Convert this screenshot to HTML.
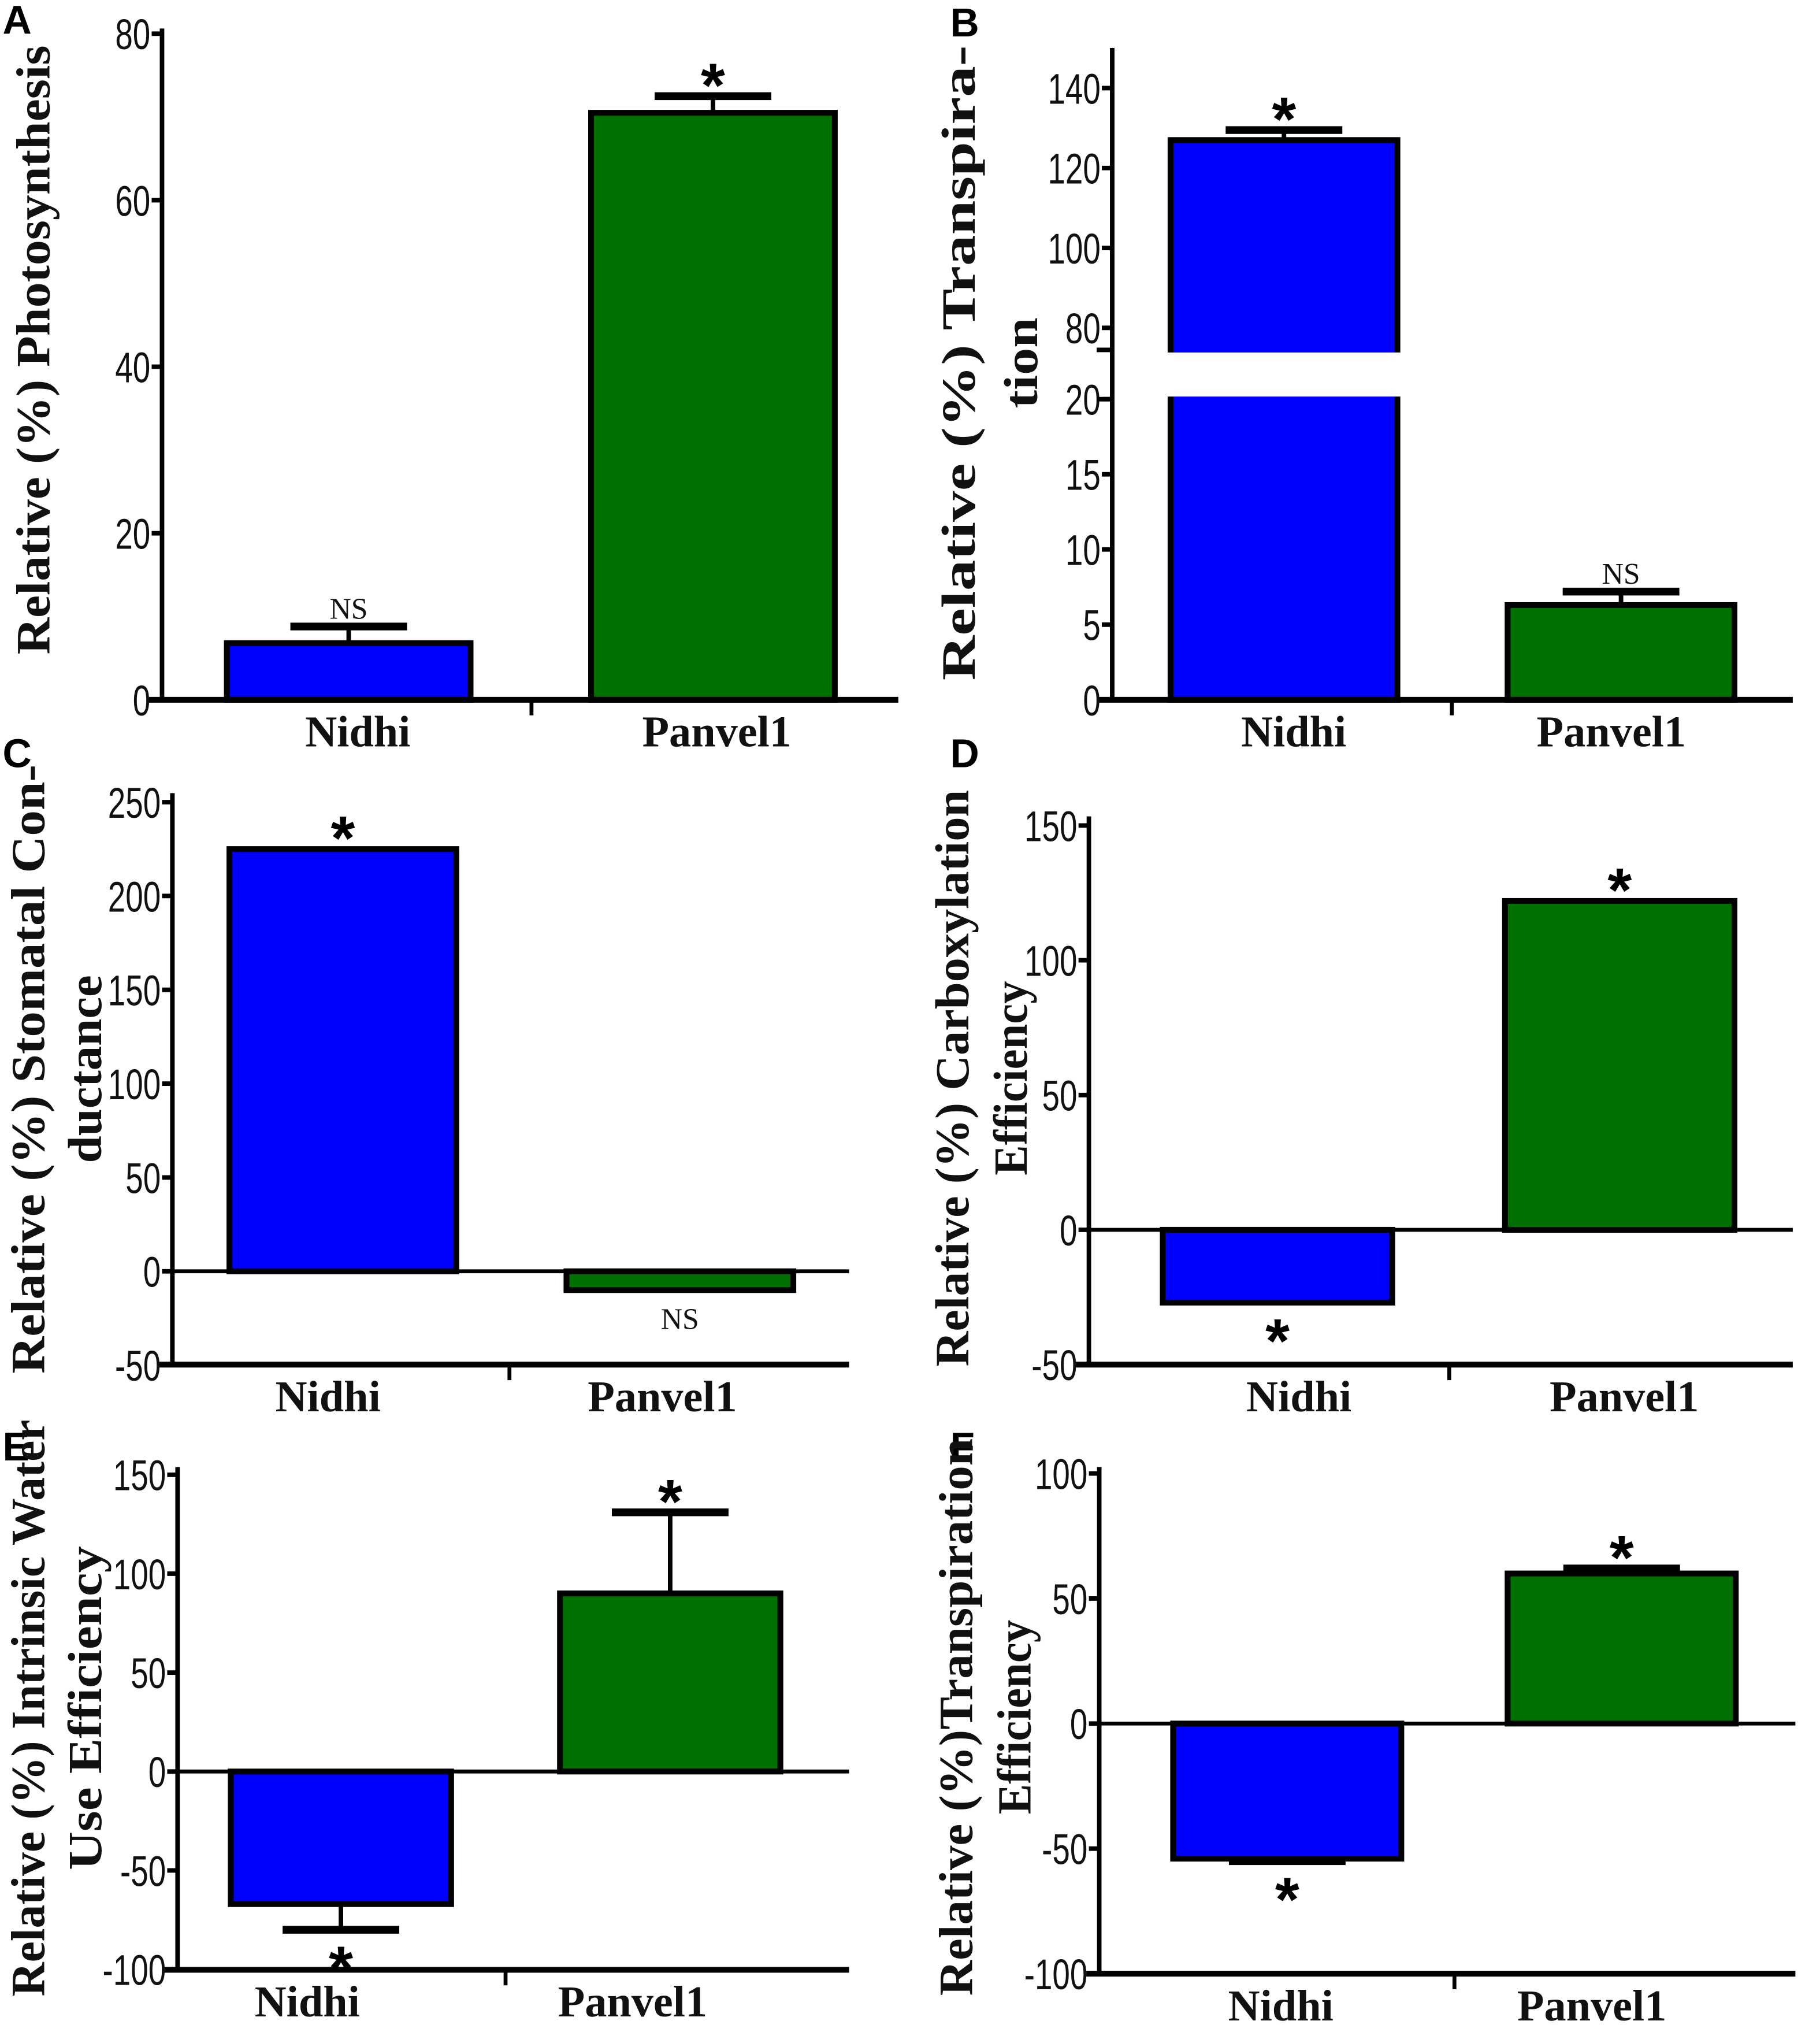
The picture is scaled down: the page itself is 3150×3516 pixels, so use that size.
<!DOCTYPE html>
<html><head><meta charset="utf-8">
<style>
html,body{margin:0;padding:0;background:#fff;}
svg{display:block;}
.tick{font-family:"Liberation Sans",sans-serif;font-size:33px;fill:#111;}
.ylab{font-family:"Liberation Serif",serif;font-weight:bold;font-size:37px;fill:#111;}
.xlab{font-family:"Liberation Serif",serif;font-weight:bold;font-size:34px;fill:#111;}
.plet{font-family:"Liberation Sans",sans-serif;font-weight:bold;font-size:31px;fill:#000;}
.ns{font-family:"Liberation Serif",serif;font-size:23px;fill:#111;}
.star{font-family:"Liberation Sans",sans-serif;font-weight:bold;font-size:48px;fill:#000;}
</style></head>
<body>
<svg id="fig" width="3150" height="3516" viewBox="0 0 1404 1568" preserveAspectRatio="none" xmlns="http://www.w3.org/2000/svg">
<rect width="1404" height="1568" fill="#fff"/>
</svg>
<script>
const categories = ["Nidhi", "Panvel1"];
const valuesA = [6.8, 70.5];   const errA = [2.0, 2.0];
const valuesB = [127, 6.3];    const errB = [2.5, 0.9];
const valuesC = [225, -10];    const errC = [0, 0];
const valuesD = [-27, 122];    const errD = [0, 0];
const valuesE = [-67, 90];     const errE = [13, 41];
const valuesF = [-54, 60];     const errF = [1, 2];
const ticksA = [0, 20, 40, 60, 80];
const ticksBlow = [0, 5, 10, 15, 20];
const ticksBhigh = [80, 100, 120, 140];
const ticksC = [-50, 0, 50, 100, 150, 200, 250];
const ticksD = [-50, 0, 50, 100, 150];
const ticksE = [-100, -50, 0, 50, 100, 150];
const ticksF = [-100, -50, 0, 50, 100];
const sigA = ["NS", "*"], sigB = ["*", "NS"], sigC = ["*", "NS"], sigD = ["*", "*"], sigE = ["*", "*"], sigF = ["*", "*"];

const svg = document.getElementById('fig');
const NS = 'http://www.w3.org/2000/svg';
function mk(tag, attrs, parent, text) {
  const e = document.createElementNS(NS, tag);
  for (const k in attrs) e.setAttribute(k, attrs[k]);
  if (text !== undefined) e.textContent = text;
  (parent || svg).appendChild(e);
  return e;
}
const colors = ["#0000ff", "#007000"];

function panel(p) {
  const g = mk('g', {});
  
  
  const y = p.y;
  const L = mk('text', {x: p.lx, y: p.ly, class: 'plet'}, g, p.id.toUpperCase());
  
  
  const ax = mk('line', {x1: p.ax, x2: p.ax, y1: p.top, y2: p.bottomY, stroke: '#000', 'stroke-width': 3.5}, g);
  
  
  p.ticks.forEach(t => {
    const ty = y(t);
    mk('line', {x1: p.ax - 8, x2: p.ax, y1: ty, y2: ty, stroke: '#000', 'stroke-width': 3.5}, g);
    const tl = mk('text', {x: p.ax - 9, y: ty + 12, class: 'tick', 'text-anchor': 'end', transform: `translate(${p.ax - 9},0) scale(0.74,1) translate(${-(p.ax - 9)},0)`}, g, String(t));
    
    
  });
  if (p.zeroLine) {
    const z = mk('line', {x1: p.ax, x2: p.x1, y1: y(0), y2: y(0), stroke: '#000', 'stroke-width': 3}, g);
    
    
  }
  p.values.forEach((v, i) => {
    const bx = p.barX[i], bw = p.barW;
    const y0 = y(0), yv = y(v);
    const r = mk('rect', {x: bx, y: Math.min(y0, yv), width: bw, height: Math.abs(y0 - yv), fill: colors[i], stroke: '#000', 'stroke-width': 4.5}, g);
    
    
    const cx = bx + bw / 2;
    const e = p.err[i];
    if (e > 0) {
      const ye = y(v + (v >= 0 ? e : -e));
      mk('line', {x1: cx, x2: cx, y1: yv, y2: ye, stroke: '#000', 'stroke-width': 3.5}, g);
      const cap = mk('line', {x1: cx - 45, x2: cx + 45, y1: ye, y2: ye, stroke: '#000', 'stroke-width': 6}, g);
      
      
    }
    const s = p.sig[i];
    const endV = v + (v >= 0 ? e : -e);
    let sy = v >= 0 ? y(endV) - 8 : y(endV) + 30;
    if (s === 'NS') sy = v >= 0 ? y(endV) - 6 : y(endV) + 30;
    const st = mk('text', {x: cx, y: s === '*' ? sy + 16 : sy, class: s === '*' ? 'star' : 'ns', 'text-anchor': 'middle'}, g, s);
    
    
    const xl = mk('text', {x: p.xlx[i], y: p.bottomY + 36, class: 'xlab', 'text-anchor': 'middle'}, g, categories[i]);
    
    
  });
  const bx = mk('line', {x1: p.ax - 10, x2: p.x1, y1: p.bottomY, y2: p.bottomY, stroke: '#000', 'stroke-width': 4.5}, g);
  
  
  mk('line', {x1: p.mid, x2: p.mid, y1: p.bottomY, y2: p.bottomY + 12, stroke: '#000', 'stroke-width': 3}, g);
  p.ylab.forEach((t, k) => {
    const yl = mk('text', {x: 0, y: 0, class: 'ylab', 'text-anchor': 'middle', textLength: p.ylen[k], lengthAdjust: 'spacingAndGlyphs', transform: `translate(${p.ylx[k]},${p.yly}) rotate(-90)`}, g, t);
    
    
  });
  return g;
}

function lin(v0, y0, v1, y1) { return v => y0 + (v - v0) * (y1 - y0) / (v1 - v0); }

panel({id: 'a', lx: 2, ly: 26, y: lin(0, 540, 80, 26), ax: 125, top: 22, bottomY: 540, x1: 693, mid: 410,
  ticks: ticksA, values: valuesA, err: errA, sig: sigA, barX: [175, 456], barW: 188, xlx: [276, 553],
  ylab: ["Relative (%) Photosynthesis"], ylen: [470], ylx: [38], yly: 270});

const yBlow = lin(0, 540, 20, 308), yBhigh = lin(80, 253, 140, 68);
const yB = v => v <= 20 ? yBlow(v) : (v >= 75 ? yBhigh(v) : 290);
const gB = panel({id: 'b', lx: 733, ly: 28, y: yB, ax: 858, top: 37, bottomY: 540, x1: 1383, mid: 1120,
  ticks: ticksBlow.concat(ticksBhigh), values: valuesB, err: errB, sig: sigB, barX: [903, 1163], barW: 175, xlx: [998, 1243],
  ylab: ["Relative (%) Transpira-", "tion"], ylen: [490, 70], ylx: [752, 800], yly: 280});
const gap = mk('rect', {x: 862, y: 272, width: 225, height: 34, fill: '#fff'}, gB);


mk('line', {x1: 846, x2: 858, y1: 270, y2: 270, stroke: '#000', 'stroke-width': 3.5}, gB);
mk('line', {x1: 846, x2: 858, y1: 308, y2: 308, stroke: '#000', 'stroke-width': 3.5}, gB);

panel({id: 'c', lx: 2, ly: 592, y: lin(0, 981, 250, 619), ax: 133, top: 612, bottomY: 1053, x1: 655, mid: 393, zeroLine: true,
  ticks: ticksC, values: valuesC, err: errC, sig: sigC, barX: [177, 437], barW: 175, xlx: [253, 511],
  ylab: ["Relative (%) Stomatal Con-", "ductance"], ylen: [470, 145], ylx: [34, 78], yly: 825});

panel({id: 'd', lx: 733, ly: 592, y: lin(0, 949, 150, 637), ax: 840, top: 630, bottomY: 1053, x1: 1383, mid: 1118, zeroLine: true,
  ticks: ticksD, values: valuesD, err: errD, sig: sigD, barX: [897, 1161], barW: 177, xlx: [1002, 1253],
  ylab: ["Relative (%) Carboxylation", "Efficiency"], ylen: [445, 150], ylx: [747, 792], yly: 832});

panel({id: 'e', lx: 2, ly: 1127, y: lin(0, 1367, 150, 1138), ax: 137, top: 1132, bottomY: 1520, x1: 655, mid: 390, zeroLine: true,
  ticks: ticksE, values: valuesE, err: errE, sig: sigE, barX: [178, 432], barW: 170, xlx: [237, 488],
  ylab: ["Relative (%) Intrinsic Water", "Use  Efficiency"], ylen: [445, 250], ylx: [34, 78], yly: 1318});

panel({id: 'f', lx: 733, ly: 1127, y: lin(0, 1330, 100, 1137), ax: 848, top: 1132, bottomY: 1523, x1: 1385, mid: 1122, zeroLine: true,
  ticks: ticksF, values: valuesF, err: errF, sig: sigF, barX: [905, 1163], barW: 176, xlx: [988, 1228],
  ylab: ["Relative (%)Transpiration", "Efficiency"], ylen: [430, 150], ylx: [750, 795], yly: 1325});
</script>
</body></html>
